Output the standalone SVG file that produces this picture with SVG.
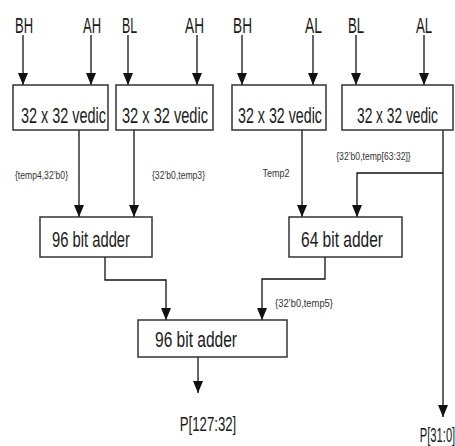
<svg xmlns="http://www.w3.org/2000/svg" width="455" height="446" viewBox="0 0 455 446">
<style>
.box{fill:#fff;stroke:#333;stroke-width:1.5}
.t{font-family:"Liberation Sans",Arial,sans-serif;fill:#1a1a1a;text-anchor:middle}
.big{font-size:22px}
.lbl{font-size:22px}
.sm{font-size:10px;fill:#333}
.out{font-size:20px}
.c{fill:none;stroke:#111;stroke-width:1.3}
</style>
<defs>
<marker id="ah" viewBox="0 0 12 10" refX="12" refY="5" markerWidth="12" markerHeight="10" markerUnits="userSpaceOnUse" orient="auto">
<path d="M0,0 L12,5 L0,10 z" fill="#111"/>
</marker>
</defs>
<rect width="455" height="446" fill="#fff"/>
<g id="inputs">
<text class="t lbl" transform="translate(24,33) scale(0.59,1)">BH</text>
<text class="t lbl" transform="translate(92,33) scale(0.59,1)">AH</text>
<text class="t lbl" transform="translate(129.5,33) scale(0.56,1)">BL</text>
<text class="t lbl" transform="translate(194.5,33) scale(0.62,1)">AH</text>
<text class="t lbl" transform="translate(242.5,33) scale(0.62,1)">BH</text>
<text class="t lbl" transform="translate(313.5,33) scale(0.63,1)">AL</text>
<text class="t lbl" transform="translate(356,33) scale(0.6,1)">BL</text>
<text class="t lbl" transform="translate(424,33) scale(0.6,1)">AL</text>
</g>
<g id="connectors">
<line class="c" x1="23" y1="35" x2="23" y2="85" marker-end="url(#ah)"/>
<line class="c" x1="91" y1="35" x2="91" y2="85" marker-end="url(#ah)"/>
<line class="c" x1="128" y1="35" x2="128" y2="85" marker-end="url(#ah)"/>
<line class="c" x1="197" y1="35" x2="197" y2="85" marker-end="url(#ah)"/>
<line class="c" x1="242" y1="35" x2="242" y2="85" marker-end="url(#ah)"/>
<line class="c" x1="313" y1="35" x2="313" y2="85" marker-end="url(#ah)"/>
<line class="c" x1="356" y1="35" x2="356" y2="85" marker-end="url(#ah)"/>
<line class="c" x1="424" y1="35" x2="424" y2="85" marker-end="url(#ah)"/>
<line class="c" x1="79" y1="130" x2="79" y2="217" marker-end="url(#ah)"/>
<line class="c" x1="134" y1="130" x2="134" y2="217" marker-end="url(#ah)"/>
<line class="c" x1="302" y1="130" x2="302" y2="217" marker-end="url(#ah)"/>
<line class="c" x1="443" y1="130" x2="443" y2="417" marker-end="url(#ah)"/>
<polyline class="c" points="443,173 357,173 357,217" marker-end="url(#ah)"/>
<polyline class="c" points="105,257 105,280 166,280 166,320" marker-end="url(#ah)"/>
<polyline class="c" points="325,257 325,279 262,279 262,320" marker-end="url(#ah)"/>
<line class="c" x1="198" y1="357" x2="198" y2="393" marker-end="url(#ah)"/>
<text class="t sm" transform="translate(41.5,179) scale(0.86,1)">{temp4,32’b0}</text>
<text class="t sm" transform="translate(178.5,179) scale(0.86,1)">{32’b0,temp3}</text>
<text class="t sm" transform="translate(276,177) scale(0.9,1)">Temp2</text>
<text class="t sm" transform="translate(373.5,160) scale(0.86,1)">{32’b0,temp[63:32]}</text>
<text class="t sm" transform="translate(304,307) scale(0.94,1)">{32’b0,temp5}</text>
</g>
<g id="vedic1">
<rect class="box" x="13" y="85" width="95" height="45"/>
<text class="t big" transform="translate(63.5,123) scale(0.656,1)">32 x 32 vedic</text>
</g>
<g id="vedic2">
<rect class="box" x="116" y="85" width="97" height="45"/>
<text class="t big" transform="translate(165,123) scale(0.664,1)">32 x 32 vedic</text>
</g>
<g id="vedic3">
<rect class="box" x="232" y="85" width="94" height="45"/>
<text class="t big" transform="translate(280,123) scale(0.648,1)">32 x 32 vedic</text>
</g>
<g id="vedic4">
<rect class="box" x="342" y="85" width="111" height="45"/>
<text class="t big" transform="translate(397.5,123) scale(0.625,1)">32 x 32 vedic</text>
</g>
<g id="adder96a">
<rect class="box" x="40" y="217" width="112" height="40"/>
<text class="t big" transform="translate(91,247) scale(0.671,1)">96 bit adder</text>
</g>
<g id="adder64">
<rect class="box" x="289" y="217" width="113" height="40"/>
<text class="t big" transform="translate(342,247) scale(0.706,1)">64 bit adder</text>
</g>
<g id="adder96b">
<rect class="box" x="138" y="320" width="149" height="37"/>
<text class="t big" transform="translate(196,347) scale(0.706,1)">96 bit adder</text>
</g>
<g id="outputs">
<text class="t out" transform="translate(208,431) scale(0.66,1)">P[127:32]</text>
<text class="t out" transform="translate(437.5,442) scale(0.56,1)">P[31:0]</text>
</g>
</svg>
